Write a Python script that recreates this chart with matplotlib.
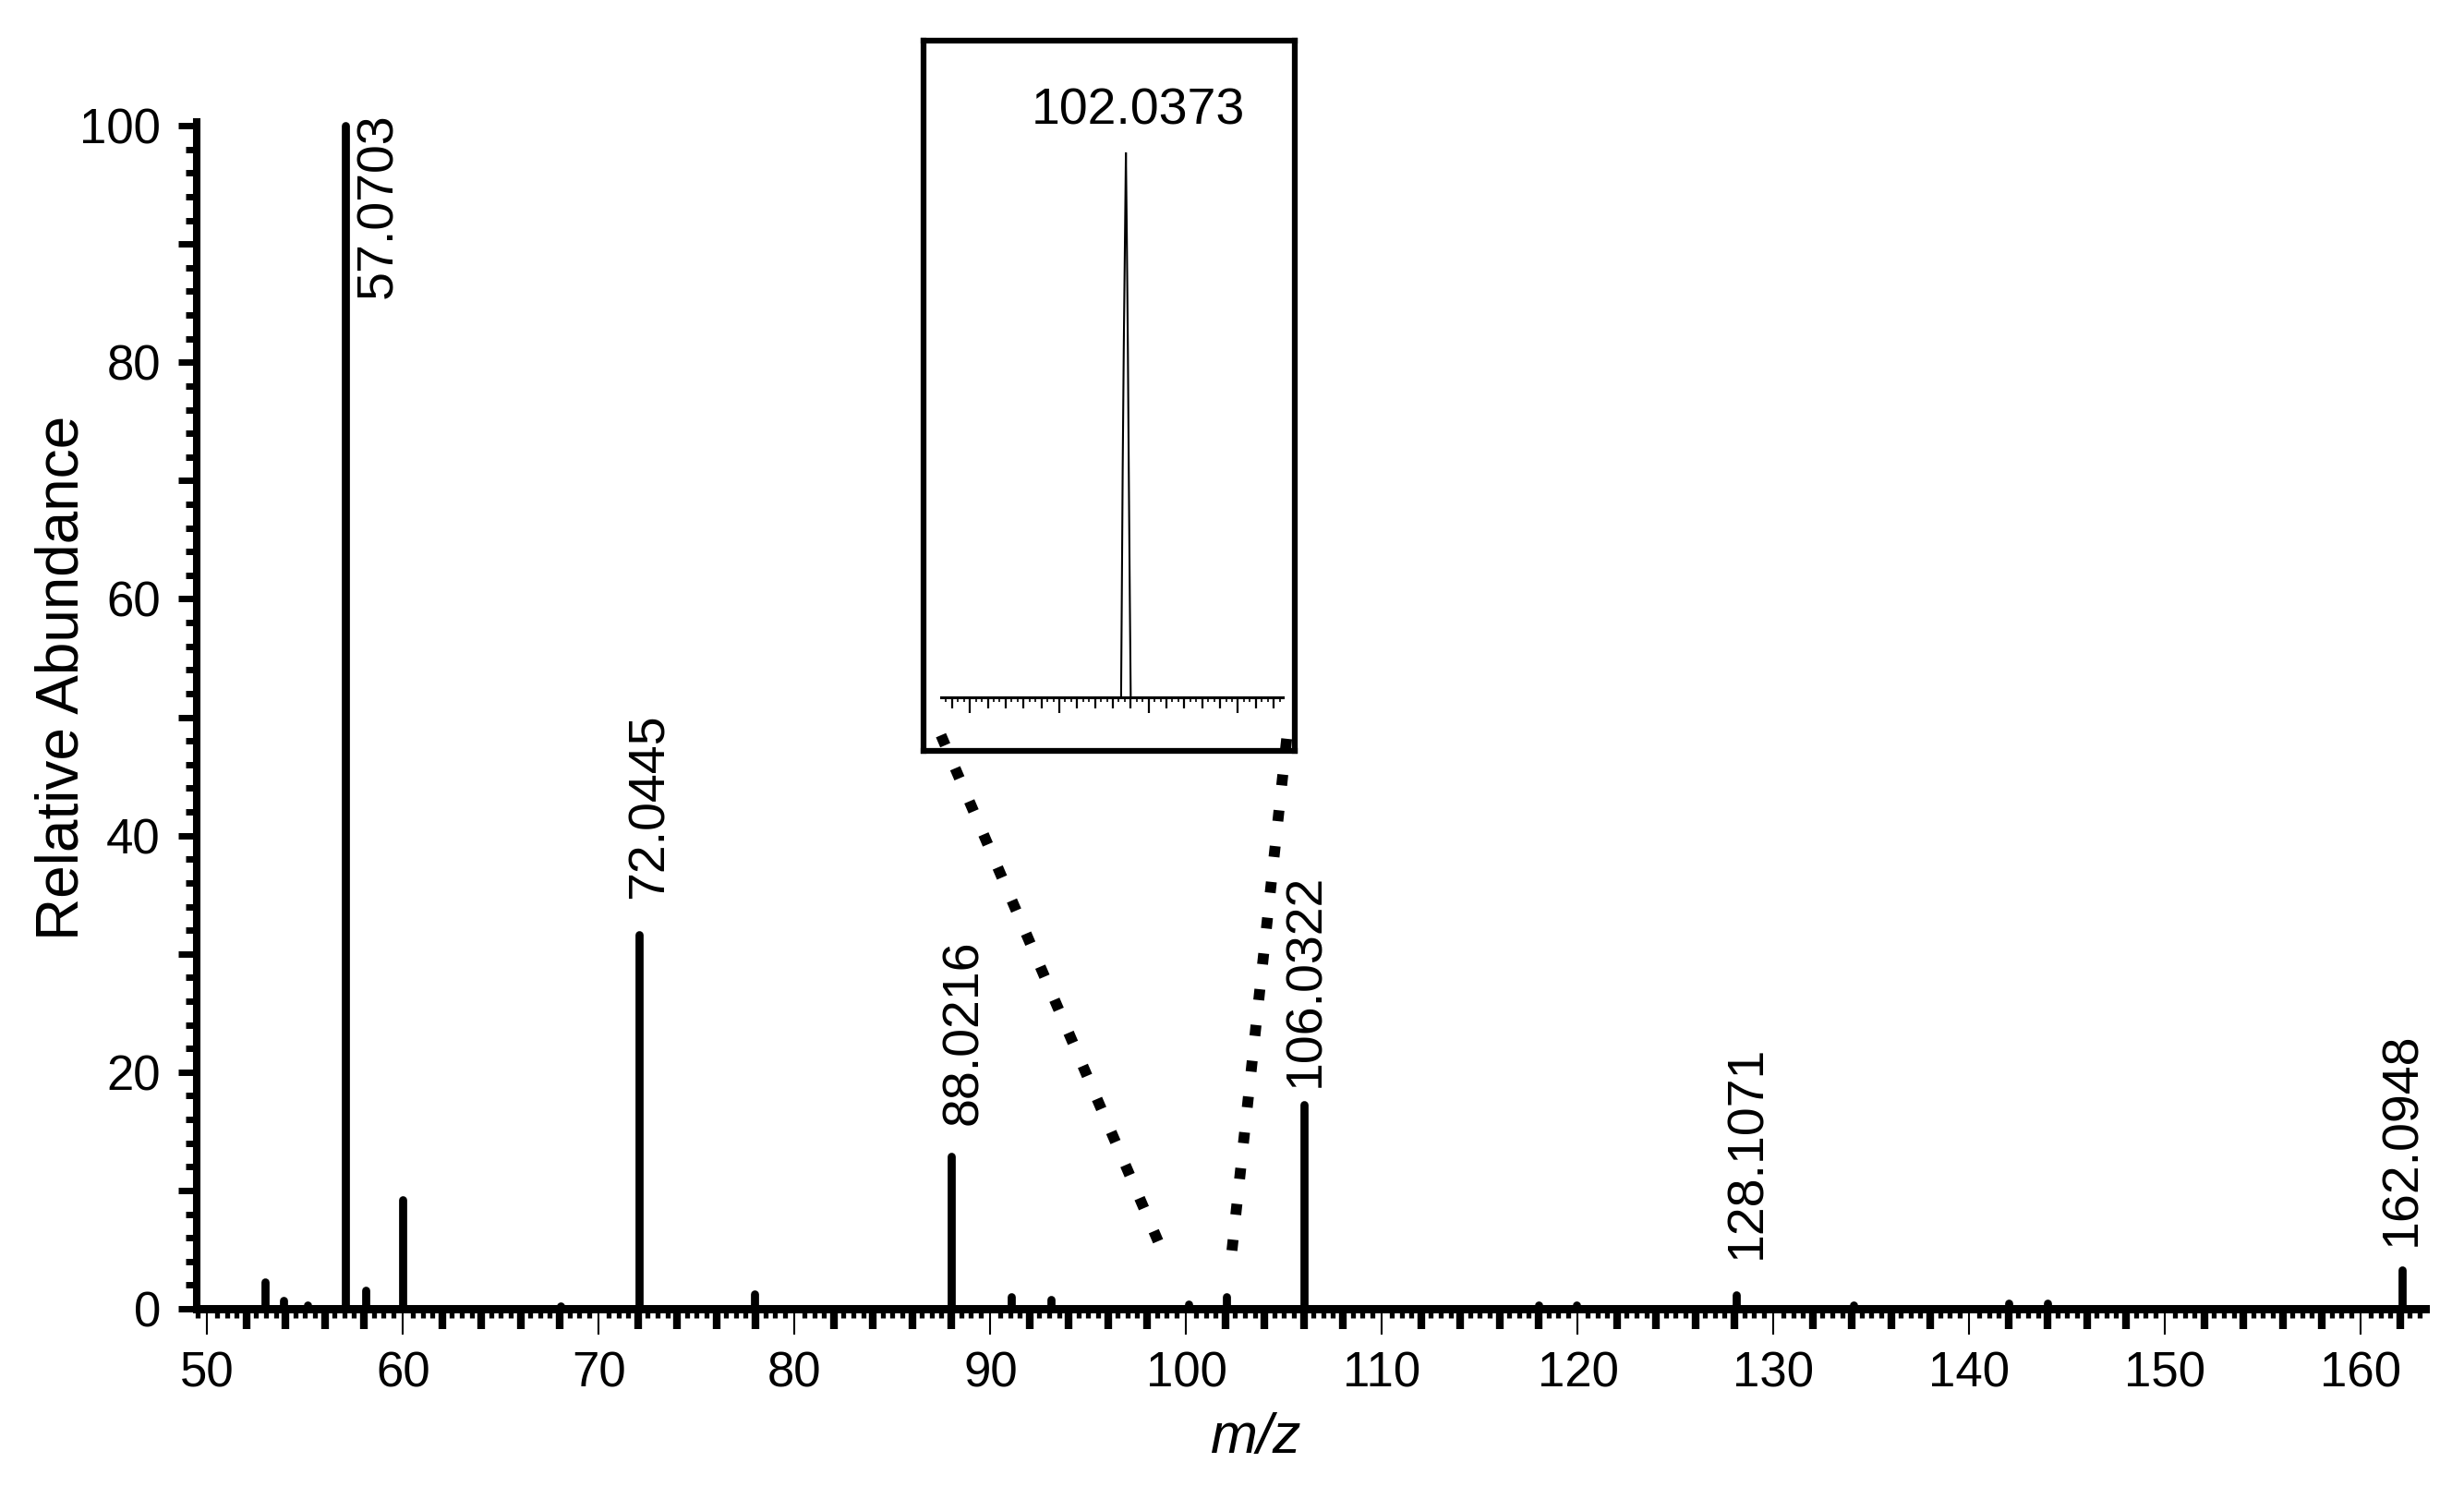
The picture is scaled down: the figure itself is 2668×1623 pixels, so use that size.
import numpy as np
import matplotlib
matplotlib.use("Agg")
import matplotlib.pyplot as plt
from matplotlib.ticker import MultipleLocator, FixedLocator, NullLocator, FuncFormatter
from matplotlib.patches import ConnectionPatch

plt.rcParams['font.family'] = ['Liberation Sans', 'DejaVu Sans']

# ---------------- data ----------------
peak_mz = [52.97, 53.9, 55.1, 57.07, 58.1, 59.97, 68.05, 72.04, 77.95, 88.02,
           91.04, 93.1, 100.1, 102.04, 106.03, 118.0, 119.95, 128.11, 134.1,
           142.0, 144.0, 162.09]
peak_int = [2.3, 0.7, 0.3, 100.0, 1.55, 9.2, 0.25, 31.6, 1.25, 12.9,
            1.0, 0.8, 0.4, 1.0, 17.25, 0.3, 0.3, 1.2, 0.3,
            0.5, 0.5, 3.3]

label_mz = [57.0703, 72.0445, 88.0216, 106.0322, 128.1071, 162.0948]
label_text = ["57.0703", "72.0445", "88.0216", "106.0322", "128.1071", "162.0948"]

inset_mz = [102.0346, 102.0350, 102.0355, 102.0361, 102.0368, 102.0373,
            102.0378, 102.0384, 102.0389, 102.0395, 102.0400]
inset_int = [0, 18, 42, 64, 85, 100, 85, 64, 42, 18, 0]
inset_label = "102.0373"

x_label = "m/z"
y_label = "Relative Abundance"

# ---------------- layout (label offsets: dx in m/z, dy gap above peak) ----------------
label_layout = {
    72.0445: (0.54, 3.1),
    88.0216: (0.63, 2.6),
    106.0322: (0.10, 1.5),
    128.1071: (0.55, 3.0),
    162.0948: (0.00, 2.0),
}

fig = plt.figure(figsize=(26.68, 16.23), dpi=100)
fig.patch.set_facecolor('white')

ax = fig.add_axes([0.0800, 0.1269, 0.9041, 0.7916])
ax.set_xlim(49.48, 163.26)
ax.set_ylim(0, 100.3)

lc = ax.vlines(peak_mz, 0, peak_int, colors='black', linewidth=6.3)
lc.set_capstyle('round')

for sp in ['top', 'right']:
    ax.spines[sp].set_visible(False)
ax.spines['bottom'].set_linewidth(6.5)
ax.spines['left'].set_linewidth(5.8)

# x ticks
ax.xaxis.set_major_locator(MultipleLocator(10))
ax.xaxis.set_minor_locator(MultipleLocator(0.5))
ax.tick_params(axis='x', which='major', direction='out', length=20, width=1.5,
               labelsize=38, pad=13, color='black')
ax.tick_params(axis='x', which='minor', direction='out', length=7.5, width=3.8, color='black')

sec = ax.secondary_xaxis('bottom')
for sp in sec.spines.values():
    sp.set_visible(False)
bold_ticks = [v for v in range(50, 164, 2) if v % 10 != 0]
sec.xaxis.set_major_locator(FixedLocator(bold_ticks))
sec.xaxis.set_minor_locator(NullLocator())
sec.tick_params(axis='x', which='major', direction='out', length=15.5, width=6.0,
                labelbottom=False, color='black')

# y ticks
ax.yaxis.set_major_locator(MultipleLocator(10))
ax.yaxis.set_minor_locator(MultipleLocator(2))
ax.yaxis.set_major_formatter(FuncFormatter(
    lambda v, p: f"{int(round(v))}" if int(round(v)) % 20 == 0 else ""))
ax.tick_params(axis='y', which='major', direction='out', length=14.5, width=5.0,
               labelsize=38, pad=14, color='black')
ax.tick_params(axis='y', which='minor', direction='out', length=9, width=5.0, color='black')

ax.set_xlabel(x_label, fontsize=44, style='italic')
ax.set_ylabel(y_label, fontsize=46)
ax.xaxis.label.set_va('center')
ax.yaxis.label.set_va('center')
ax.xaxis.set_label_coords(0.4754, -0.109)
ax.yaxis.set_label_coords(-0.0607, 0.5316)

# peak labels
pm = np.array(peak_mz)
for m, t in zip(label_mz, label_text):
    i = int(np.argmin(np.abs(pm - m)))
    h = peak_int[i]
    if m in label_layout:
        dx, dy = label_layout[m]
        ax.text(peak_mz[i] + dx, h + dy, t, rotation=90, ha='center', va='bottom',
                fontsize=40, clip_on=False)
    else:
        ax.text(peak_mz[i] + 1.68, 101.05, t, rotation=90, ha='center', va='top',
                fontsize=40, clip_on=False)

# ---------------- inset ----------------
ax_box = fig.add_axes([0.3748, 0.4991, 0.1507, 0.4738])
ax_box.set_xticks([])
ax_box.set_yticks([])
for sp in ax_box.spines.values():
    sp.set_linewidth(4.5)
ax_box.set_zorder(3)
ax_box.patch.set_facecolor('white')

ax_in = fig.add_axes([0.3819, 0.5348, 0.1387, 0.3635])
ax_in.set_zorder(4)
ax_in.patch.set_alpha(0)
ax_in.set_xlim(101.9338, 102.1251)
ax_in.set_ylim(0, 100)
ax_in.plot(inset_mz, inset_int, color='black', linewidth=1.5)
for sp in ['top', 'right', 'left']:
    ax_in.spines[sp].set_visible(False)
ax_in.spines['bottom'].set_linewidth(2.2)
ax_in.set_yticks([])
ax_in.xaxis.set_major_locator(MultipleLocator(0.05))
ax_in.xaxis.set_minor_locator(MultipleLocator(0.01 / 3))
ax_in.tick_params(axis='x', which='major', direction='out', length=12, width=1.6,
                  labelbottom=False, color='black')
ax_in.tick_params(axis='x', which='minor', direction='out', length=3.8, width=1.2, color='black')

sec_in = ax_in.secondary_xaxis('bottom')
for sp in sec_in.spines.values():
    sp.set_visible(False)
med_ticks = [round(101.94 + 0.01 * k, 2) for k in range(19)]
med_ticks = [v for v in med_ticks if int(round(v * 100)) % 5 != 0]
sec_in.xaxis.set_major_locator(FixedLocator(med_ticks))
sec_in.xaxis.set_minor_locator(NullLocator())
sec_in.tick_params(axis='x', which='major', direction='out', length=8.6, width=1.6,
                   labelbottom=False, color='black')

imax = int(np.argmax(inset_int))
ax_in.text(inset_mz[imax] + 0.007, inset_int[imax] + 7.5, inset_label,
           ha='center', va='center', fontsize=40, clip_on=False)

# dotted connector lines
for xyA, xyB in [((0.047, 0.022), (98.9, 4.4)), ((0.978, 0.017), (102.3, 4.4))]:
    con = ConnectionPatch(xyA=xyA, coordsA=ax_box.transAxes,
                          xyB=xyB, coordsB=ax.transData,
                          linestyle=(0, (1, 2.3)), linewidth=8.5, color='black')
    con.set_capstyle('butt')
    con.set_zorder(5)
    fig.add_artist(con)

fig.savefig("out.png", dpi=100, facecolor='white')
